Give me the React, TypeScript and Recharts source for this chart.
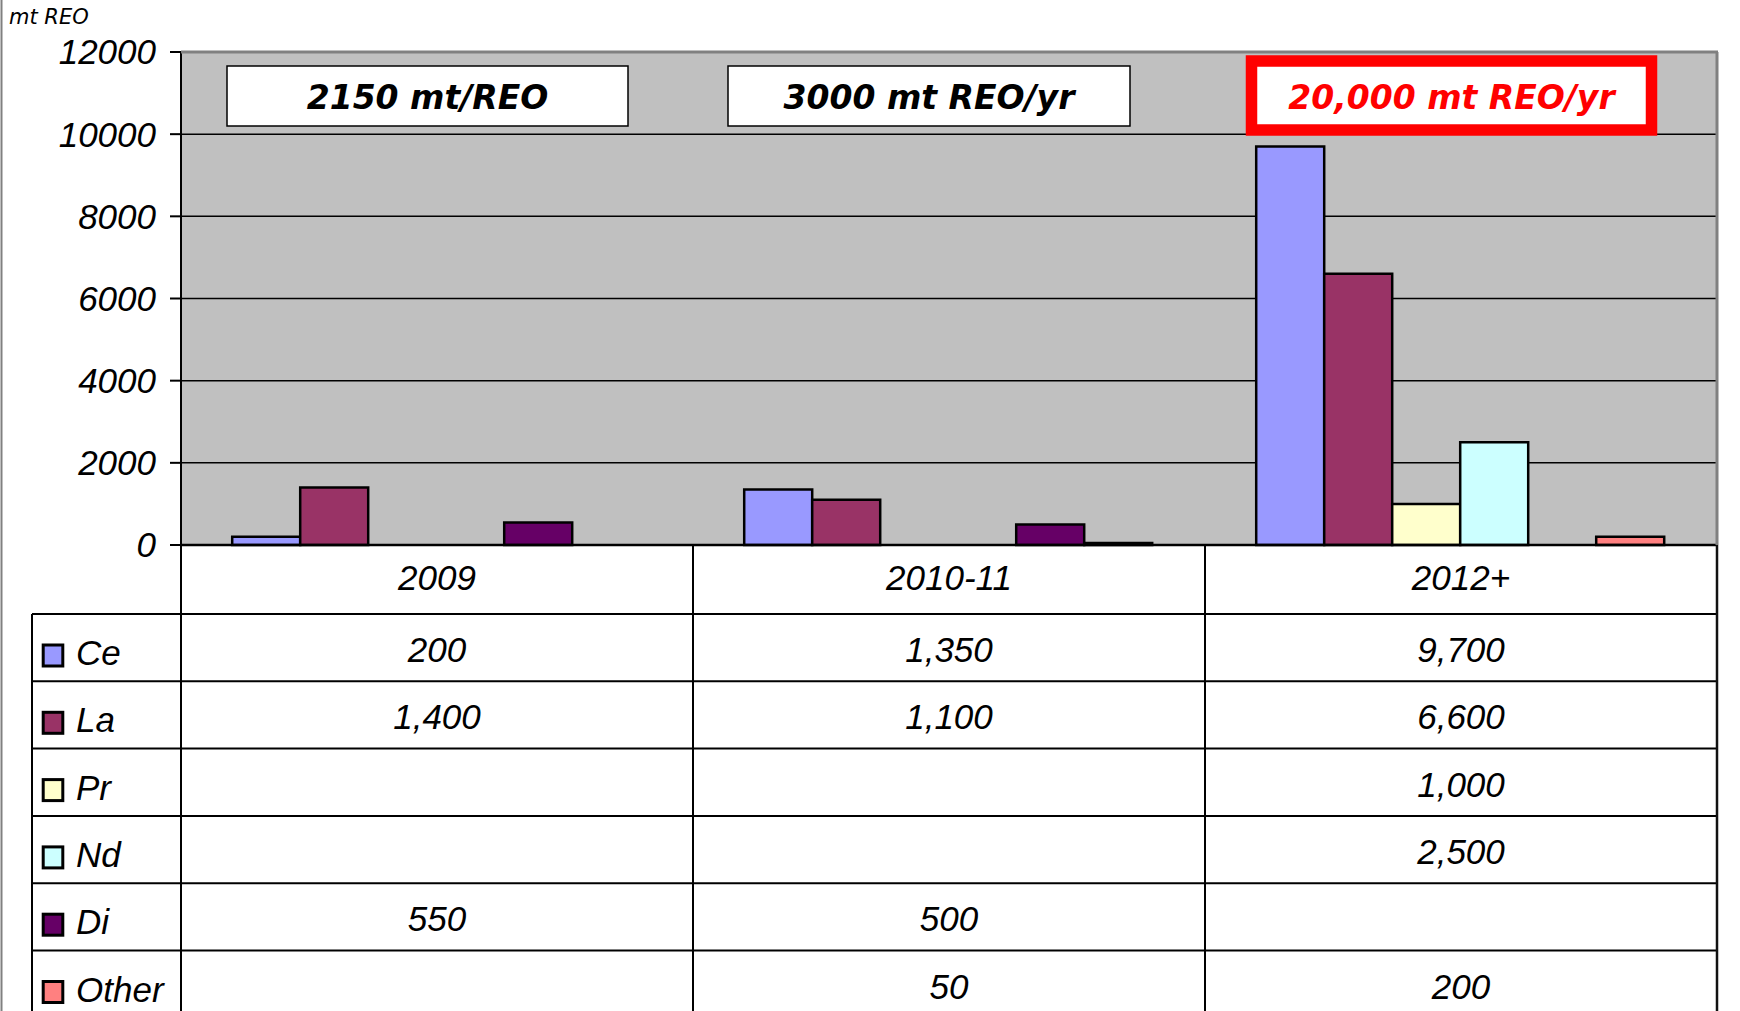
import React from 'react';
import { BarChart, Bar, XAxis, YAxis, CartesianGrid } from 'recharts';

const categories = ['2009', '2010-11', '2012+'];
const ceValues = [200, 1350, 9700];
const laValues = [1400, 1100, 6600];
const prValues: (number | null)[] = [null, null, 1000];
const ndValues: (number | null)[] = [null, null, 2500];
const diValues: (number | null)[] = [550, 500, null];
const otherValues: (number | null)[] = [null, 50, 200];
const yTicks = [0, 2000, 4000, 6000, 8000, 10000, 12000];
const seriesKeys = ['Ce', 'La', 'Pr', 'Nd', 'Di', 'Other'];
const seriesColors = ['#9999FF', '#993366', '#FFFFCC', '#CCFFFF', '#660066', '#FF8080'];
const annotations = ['2150 mt/REO', '3000 mt REO/yr', '20,000 mt REO/yr'];

const seriesValues = [ceValues, laValues, prValues, ndValues, diValues, otherValues];
const data = categories.map((cat, i) => {
  const row: Record<string, any> = { cat };
  seriesKeys.forEach((k, s) => {
    row[k] = seriesValues[s][i];
  });
  return row;
});

const W = 1740;
const H = 1011;
const PLOT_LEFT = 181;
const PLOT_RIGHT = 1717;
const PLOT_TOP = 52;
const PLOT_BOTTOM = 545;
const BAND = (PLOT_RIGHT - PLOT_LEFT) / categories.length;
const ROW_TOP = 614;
const ROW_H = 67.3;
const LEG_LEFT = 32;
const FONT = '"Liberation Sans", Arial, sans-serif';

const fmt = (v: number | null | undefined) =>
  v === null || v === undefined ? '' : v.toLocaleString('en-US');

function TableTick(props: any) {
  const { x, index, payload } = props;
  const catIdx = categories.indexOf(payload.value);
  const left = x - BAND / 2;
  const right = x + BAND / 2;
  const els: React.ReactNode[] = [];
  els.push(
    <line key="vl" x1={left} x2={left} y1={PLOT_BOTTOM} y2={H} stroke="#000" strokeWidth={2} />
  );
  if (catIdx === categories.length - 1) {
    els.push(
      <line key="vr" x1={right} x2={right} y1={PLOT_BOTTOM} y2={H} stroke="#111" strokeWidth={2.5} />
    );
  }
  els.push(
    <text
      key="cat"
      x={x}
      y={590}
      textAnchor="middle"
      style={{ fontFamily: FONT, fontStyle: 'italic', fontSize: 35, fill: '#000' }}
    >
      {payload.value}
    </text>
  );
  seriesKeys.forEach((k, s) => {
    const v = seriesValues[s][catIdx];
    const top = ROW_TOP + s * ROW_H;
    els.push(
      <text
        key={'v' + k}
        x={x}
        y={top + 48}
        textAnchor="middle"
        style={{ fontFamily: FONT, fontStyle: 'italic', fontSize: 35, fill: '#000' }}
      >
        {fmt(v)}
      </text>
    );
  });
  if (index === 0) {
    for (let r = 0; r <= seriesKeys.length; r++) {
      const yy = ROW_TOP + r * ROW_H;
      els.push(
        <line key={'h' + r} x1={LEG_LEFT} x2={PLOT_RIGHT} y1={yy} y2={yy} stroke="#000" strokeWidth={2} />
      );
    }
    els.push(
      <line key="legl" x1={LEG_LEFT} x2={LEG_LEFT} y1={ROW_TOP} y2={H} stroke="#000" strokeWidth={2} />
    );
    seriesKeys.forEach((k, s) => {
      const top = ROW_TOP + s * ROW_H;
      els.push(
        <rect
          key={'sw' + k}
          x={43.2}
          y={top + 31}
          width={19.6}
          height={21}
          fill={seriesColors[s]}
          stroke="#000"
          strokeWidth={3}
        />
      );
      els.push(
        <text
          key={'lt' + k}
          x={76}
          y={top + 51}
          textAnchor="start"
          style={{ fontFamily: FONT, fontStyle: 'italic', fontSize: 35, fill: '#000' }}
        >
          {k}
        </text>
      );
    });
  }
  return <g>{els}</g>;
}

const boxStyle = [
  { x: 227, y: 66, w: 401, h: 60, red: false },
  { x: 728, y: 66, w: 402, h: 60, red: false },
  { x: 1246, y: 55, w: 411, h: 81, red: true },
];

export default function App() {
  return (
    <div style={{ position: 'absolute', left: 0, top: 0, width: W, height: H, background: '#fff', overflow: 'hidden' }}>
      <BarChart
        width={W}
        height={H}
        data={data}
        margin={{ top: PLOT_TOP, right: W - PLOT_RIGHT, left: 0, bottom: 0 }}
        barCategoryGap="10%"
        barGap={0}
      >
        <CartesianGrid
          vertical={false}
          fill="#C0C0C0"
          fillOpacity={1}
          stroke="#000"
          strokeWidth={1.5}
        />
        <XAxis
          dataKey="cat"
          height={H - PLOT_BOTTOM}
          interval={0}
          tickLine={false}
          tickSize={0}
          axisLine={{ stroke: '#000', strokeWidth: 2.5 }}
          tick={(p: any) => <TableTick {...p} />}
        />
        <YAxis
          width={PLOT_LEFT}
          domain={[0, 12000]}
          ticks={yTicks}
          interval={0}
          tickSize={11}
          tickMargin={14}
          tickLine={{ stroke: '#000', strokeWidth: 2 }}
          axisLine={{ stroke: '#000', strokeWidth: 2 }}
          tick={{ fontFamily: FONT, fontStyle: 'italic', fontSize: 35, fill: '#000' }}
        />
        {seriesKeys.map((k, s) => (
          <Bar
            key={k}
            dataKey={k}
            fill={seriesColors[s]}
            stroke="#000"
            strokeWidth={2.5}
            isAnimationActive={false}
          />
        ))}
      </BarChart>
      <svg
        width={W}
        height={H}
        style={{ position: 'absolute', left: 0, top: 0, pointerEvents: 'none' }}
      >
        <line x1={1.5} x2={1.5} y1={0} y2={H} stroke="#808080" strokeWidth={2} />
        <line x1={PLOT_LEFT} x2={PLOT_RIGHT + 1} y1={PLOT_TOP} y2={PLOT_TOP} stroke="#808080" strokeWidth={3} />
        <line x1={PLOT_RIGHT} x2={PLOT_RIGHT} y1={PLOT_TOP} y2={PLOT_BOTTOM} stroke="#808080" strokeWidth={3} />
        <text
          x={9}
          y={24}
          style={{ fontFamily: '"DejaVu Sans", Verdana, sans-serif', fontStyle: 'italic', fontSize: 21, fill: '#000' }}
        >
          mt REO
        </text>
        {annotations.map((a, i) => {
          const b = boxStyle[i];
          return (
            <g key={a}>
              {b.red ? (
                <rect x={b.x + 5.5} y={b.y + 6} width={b.w - 11} height={b.h - 12} fill="#fff" stroke="#FF0000" strokeWidth={11.5} />
              ) : (
                <rect x={b.x} y={b.y} width={b.w} height={b.h} fill="#fff" stroke="#000" strokeWidth={1.5} />
              )}
              <text
                x={b.x + b.w / 2}
                y={108.5}
                textAnchor="middle"
                style={{
                  fontFamily: '"DejaVu Sans", Verdana, sans-serif',
                  fontStyle: 'italic',
                  fontWeight: 'bold',
                  fontSize: 33,
                  fill: b.red ? '#FF0000' : '#000',
                }}
              >
                {a}
              </text>
            </g>
          );
        })}
      </svg>
    </div>
  );
}
